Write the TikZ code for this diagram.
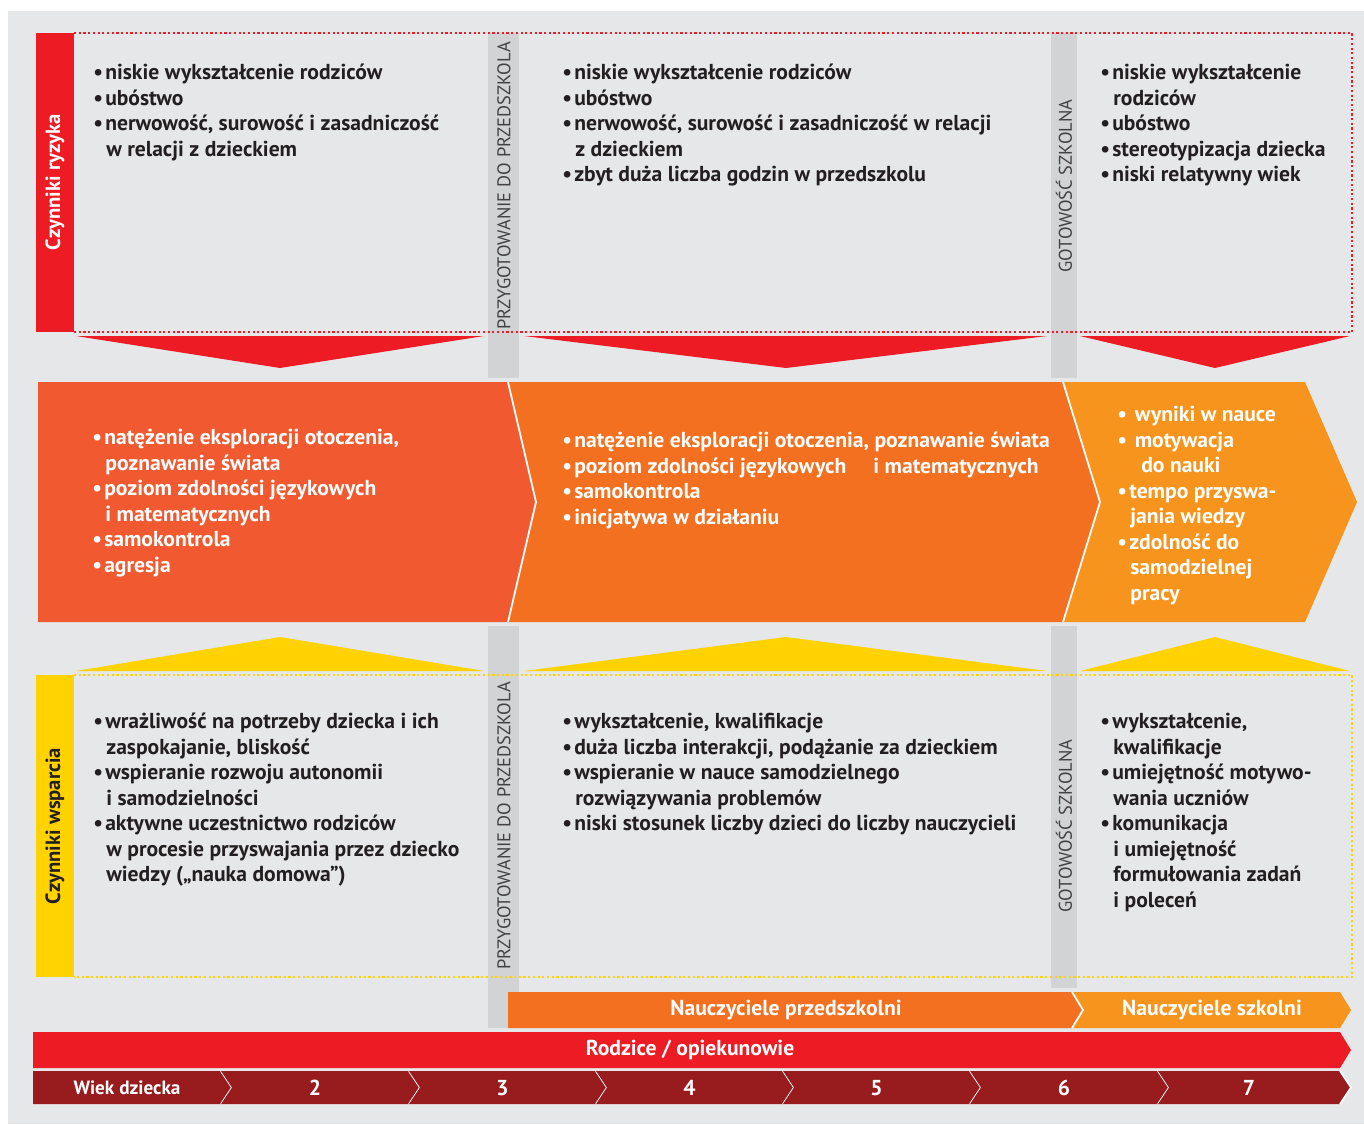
\documentclass[tikz,border=0pt]{standalone}
\usepackage{fontspec}
\setmainfont{PT Sans}
\usetikzlibrary{positioning}

\definecolor{bggray}{HTML}{E6E7E8}
\definecolor{bandgray}{HTML}{D1D3D4}
\definecolor{riskred}{HTML}{ED1C24}
\definecolor{agered}{HTML}{981B1E}
\definecolor{orangeA}{HTML}{F15A30}
\definecolor{orangeB}{HTML}{F37021}
\definecolor{orangeC}{HTML}{F7941D}
\definecolor{supyellow}{HTML}{FFD200}
\definecolor{textdark}{HTML}{231F20}

\newcommand{\bul}{\makebox[0.55em][l]{•}}
\newcommand{\ind}{\hspace*{0.6em}}

\begin{document}
\begin{tikzpicture}[
    x=0.5pt,
    y=-0.5pt,
    list/.style={anchor=north west, align=left, inner sep=0pt, font=\bfseries\fontsize{10.8}{12.75}\selectfont},
    darklist/.style={list, text=textdark},
    whitelist/.style={list, text=white},
    sidelabel/.style={rotate=90, inner sep=0pt, font=\bfseries\fontsize{10.3}{12}\selectfont},
    bandlabel/.style={rotate=90, inner sep=0pt, text=textdark!85, font=\fontsize{9.2}{10}\selectfont},
    barlabel/.style={inner sep=0pt, text=white, font=\bfseries\fontsize{10.8}{12}\selectfont},
    dotbox/.style={line width=1.3pt, dash pattern=on 1.1pt off 1.25pt},
    sepline/.style={draw=white, line width=0.9pt}
]
\useasboundingbox (0,0) rectangle (1364,1124);
\fill[bggray] (8,11) rectangle (1364,1124);

%---------------- Gray bands (stages) ----------------
\fill[bandgray] (488,33) rectangle (519,378);
\fill[bandgray] (488,626) rectangle (519,1028);
\fill[bandgray] (1051,33) rectangle (1077,378);
\fill[bandgray] (1051,626) rectangle (1077,988);
\node[bandlabel] (prepTop) at (504,186) {PRZYGOTOWANIE DO PRZEDSZKOLA};
\node[bandlabel] (prepBot) at (504,826) {PRZYGOTOWANIE DO PRZEDSZKOLA};
\node[bandlabel] (readyTop) at (1064,186) {GOTOWOŚĆ SZKOLNA};
\node[bandlabel] (readyBot) at (1064,826) {GOTOWOŚĆ SZKOLNA};

%---------------- Risk factors ----------------
\fill[riskred] (36,33) rectangle (74,332);
\node[sidelabel, text=white] (risk) at (55,182) {Czynniki ryzyka};
\draw[riskred, dotbox] (74,33) -- (1352,33) -- (1352,332) -- (74,332);

\node[darklist] (riskA) at (93,64) {\bul niskie wykształcenie rodziców\\
  \bul ubóstwo\\
  \bul nerwowość, surowość i zasadniczość\\
  \ind w relacji z dzieckiem};
\node[darklist] (riskB) at (562,64) {\bul niskie wykształcenie rodziców\\
  \bul ubóstwo\\
  \bul nerwowość, surowość i zasadniczość w relacji\\
  \ind z dzieckiem\\
  \bul zbyt duża liczba godzin w przedszkolu};
\node[darklist] (riskC) at (1100,64) {\bul niskie wykształcenie\\
  \ind rodziców\\
  \bul ubóstwo\\
  \bul stereotypizacja dziecka\\
  \bul niski relatywny wiek};

%---------------- Arrows (triangles) ----------------
\foreach \a/\b/\t in {76/484/280, 524/1047/786, 1080/1350/1215} {
    \fill[riskred] (\a,336) -- (\b,336) -- (\t,368) -- cycle;
    \fill[supyellow] (\a,671) -- (\b,671) -- (\t,637) -- cycle;
}

%---------------- Child outcomes ----------------
\fill[orangeA] (38,382) -- (508,382) -- (536,502) -- (508,622) -- (38,622) -- cycle;
\fill[orangeB] (508,382) -- (1063,382) -- (1100,502) -- (1063,622) -- (508,622) -- (536,502) -- cycle;
\fill[orangeC] (1063,382) -- (1305,382) -- (1357,502) -- (1305,622) -- (1063,622) -- (1100,502) -- cycle;
\draw[sepline] (508,382) -- (536,502) -- (508,622);
\draw[sepline] (1063,382) -- (1100,502) -- (1063,622);

\node[whitelist] (outA) at (92,429) {\bul natężenie eksploracji otoczenia,\\
  \ind poznawanie świata\\
  \bul poziom zdolności językowych\\
  \ind i matematycznych\\
  \bul samokontrola\\
  \bul agresja};
\node[whitelist] (outB) at (562,432) {\bul natężenie eksploracji otoczenia, poznawanie świata\\
  \bul poziom zdolności językowych\quad\ i matematycznych\\
  \bul samokontrola\\
  \bul inicjatywa w działaniu};
\node[whitelist] (outC) at (1117,406) {\bul\ wyniki w nauce\\
  \bul\ motywacja\\
  \ind\ \ do nauki\\
  \bul tempo przyswa-\\
  \ind jania wiedzy\\
  \bul zdolność do\\
  \ind samodzielnej\\
  \ind pracy};

%---------------- Support factors ----------------
\fill[supyellow] (36,675) rectangle (74,977);
\node[sidelabel, text=textdark] (support) at (55,826) {Czynniki wsparcia};
\draw[supyellow, dotbox] (74,675) -- (1352,675) -- (1352,977) -- (74,977);

\node[darklist] (supA) at (93,713) {\bul wrażliwość na potrzeby dziecka i ich\\
  \ind zaspokajanie, bliskość\\
  \bul wspieranie rozwoju autonomii\\
  \ind i samodzielności\\
  \bul aktywne uczestnictwo rodziców\\
  \ind w procesie przyswajania przez dziecko\\
  \ind wiedzy („nauka domowa”)};
\node[darklist] (supB) at (562,713) {\bul wykształcenie, kwalifikacje\\
  \bul duża liczba interakcji, podążanie za dzieckiem\\
  \bul wspieranie w nauce samodzielnego\\
  \ind rozwiązywania problemów\\
  \bul niski stosunek liczby dzieci do liczby nauczycieli};
\node[darklist] (supC) at (1100,713) {\bul wykształcenie,\\
  \ind kwalifikacje\\
  \bul umiejętność motywo-\\
  \ind wania uczniów\\
  \bul komunikacja\\
  \ind i umiejętność\\
  \ind formułowania zadań\\
  \ind i poleceń};

%---------------- Caregivers ----------------
\fill[orangeB] (508,992) -- (1072,992) -- (1083,1010) -- (1072,1028) -- (508,1028) -- cycle;
\fill[orangeC] (1072,992) -- (1340,992) -- (1351,1010) -- (1340,1028) -- (1072,1028) -- (1083,1010) -- cycle;
\draw[sepline] (1072,992) -- (1083,1010) -- (1072,1028);
\fill[riskred] (33,1032) -- (1340,1032) -- (1351,1050) -- (1340,1068) -- (33,1068) -- cycle;
\node[barlabel] (preT) at (786,1010) {Nauczyciele przedszkolni};
\node[barlabel] (schT) at (1212,1010) {Nauczyciele szkolni};
\node[barlabel] (parents) at (690,1050) {Rodzice / opiekunowie};

%---------------- Age of child ----------------
\foreach \a/\n/\b/\lab [count=\i] in {33/0/221/{\fontsize{9.6}{10}\selectfont Wiek dziecka}, 221/11/409/2, 409/11/596/3,
    596/11/783/4, 783/11/970/5, 970/11/1158/6, 1158/11/1340/7} {
    \fill[agered] (\a,1071) -- (\b,1071) -- (\b+11,1087.5) -- (\b,1104) -- (\a,1104) -- (\a+\n,1087.5) -- cycle;
    \draw[sepline] (\b,1071) -- (\b+11,1087.5) -- (\b,1104);
    \node[barlabel] (age\i) at (\a/2+\b/2,1088) {\lab};
}
\end{tikzpicture}
\end{document}
